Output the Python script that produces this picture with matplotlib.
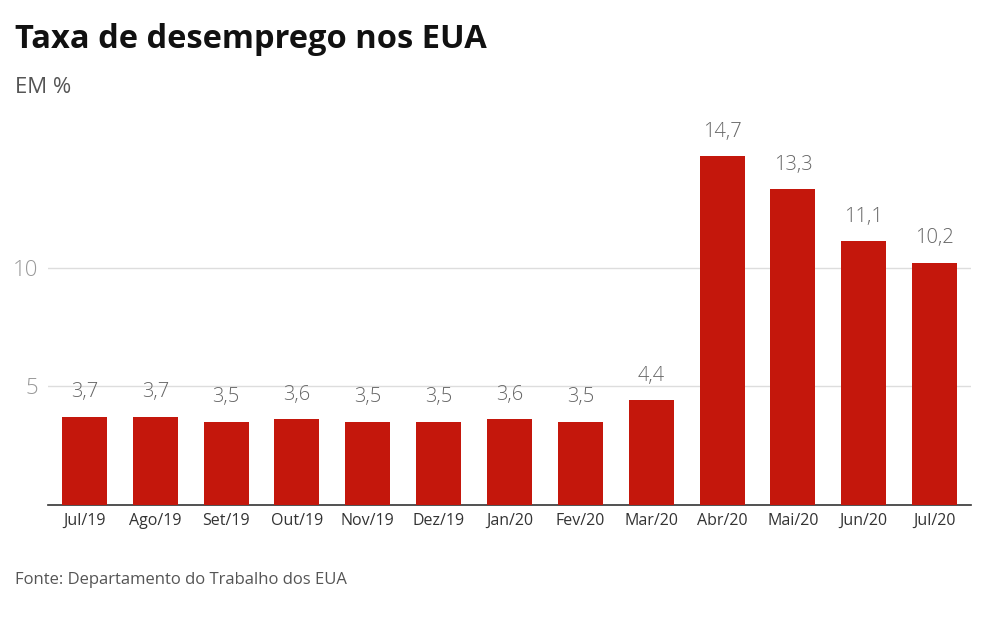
import matplotlib.pyplot as plt

meses = ['Jul/19', 'Ago/19', 'Set/19', 'Out/19', 'Nov/19', 'Dez/19', 'Jan/20',
         'Fev/20', 'Mar/20', 'Abr/20', 'Mai/20', 'Jun/20', 'Jul/20']
taxa = [3.7, 3.7, 3.5, 3.6, 3.5, 3.5, 3.6, 3.5, 4.4, 14.7, 13.3, 11.1, 10.2]
y_ticks = [5, 10]

plt.rcParams['font.family'] = ['Open Sans', 'DejaVu Sans']

fig = plt.figure(figsize=(9.84, 6.17), dpi=100)
ax = fig.add_axes([48 / 984, 112.5 / 617, 923 / 984, 391 / 617])

x = range(len(meses))
ax.bar(x, taxa, width=0.635, color='#c4170c', zorder=3)

for i, v in zip(x, taxa):
    ax.annotate(('%.1f' % v).replace('.', ','), (i, v), xytext=(0, 10.5),
                textcoords='offset points', ha='center', va='bottom',
                fontsize=14.5, fontweight='light', color='#666666')

ax.set_xlim(-0.515, len(meses) - 0.485)
ax.set_ylim(0, 16.5)
ax.set_yticks(y_ticks)
ax.set_yticklabels([str(t) for t in y_ticks], fontsize=16, fontweight='light',
                   color='#999999')
ax.set_xticks(list(x))
ax.set_xticklabels(meses, fontsize=11.5, color='#333333')
ax.tick_params(axis='y', length=0, pad=7)
ax.tick_params(axis='x', length=0, pad=6)
ax.grid(axis='y', color='#dddddd', linewidth=1, zorder=0)
for s in ['top', 'right', 'left']:
    ax.spines[s].set_visible(False)
ax.spines['bottom'].set_color('#333333')
ax.spines['bottom'].set_linewidth(1.2)

fig.text(15 / 984, 1 - 48 / 617, 'Taxa de desemprego nos EUA', fontsize=23.5,
         fontweight='bold', color='#111111', va='baseline')
fig.text(15 / 984, 1 - 93 / 617, 'EM %', fontsize=16, color='#555555', va='baseline')
fig.text(15 / 984, 1 - 584 / 617, 'Fonte: Departamento do Trabalho dos EUA',
         fontsize=12, color='#555555', va='baseline')

fig.savefig('out.png', dpi=100)
